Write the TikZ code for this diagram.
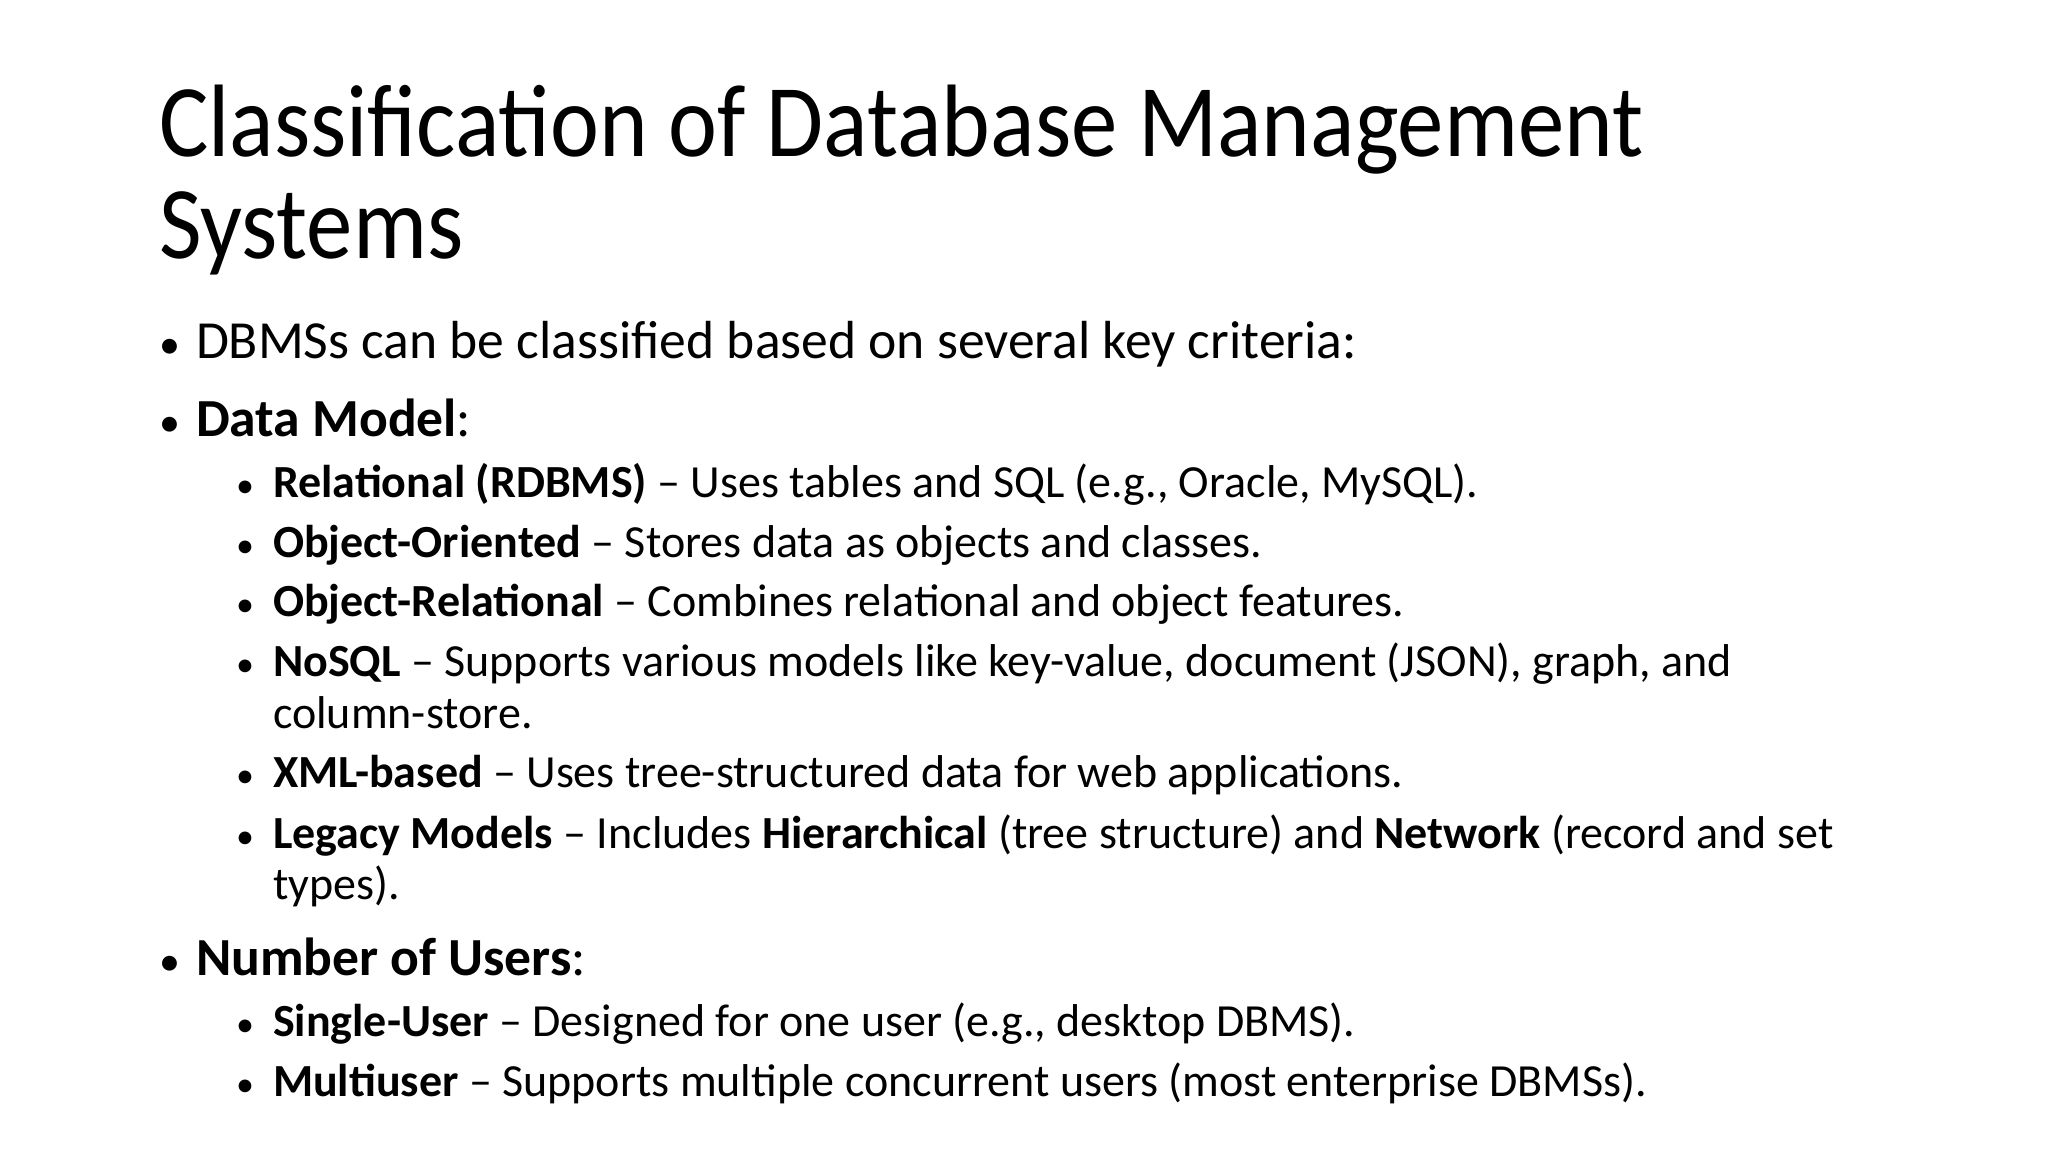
\documentclass[tikz,border=0pt]{standalone}
\usepackage{fontspec}
\setmainfont{Carlito}
\begin{document}
\begin{tikzpicture}[x=0.5pt,y=-0.5pt,
  t/.style={anchor=base west,inner sep=0pt,outer sep=0pt},
  ttl/.style={t,font=\fontsize{51.5}{60}\selectfont},
  l1/.style={t,font=\fontsize{26.8}{30}\selectfont},
  l2/.style={t,font=\fontsize{23}{26}\selectfont},
  b1/.style={t,font=\fontsize{21}{26}\selectfont},
  b2/.style={t,font=\fontsize{18}{22}\selectfont}]
\useasboundingbox (0,0) rectangle (2048,1152);
\node[ttl] (t1) at (159,156) {\scalebox{0.9}[1]{Classification of Database Management}};
\node[ttl] (t2) at (159,258) {\scalebox{0.9}[1]{Systems}};
\node[b1] (b1) at (159,358) {•};
\node[l1] (x1) at (196,358) {DBMSs can be classified based on several key criteria:};
\node[b1] (b2) at (159,436) {•};
\node[l1] (x2) at (196,436) {\textbf{Data Model}:};
\node[b2] (c1) at (236,497) {•};
\node[l2] (y1) at (273,497) {\textbf{Relational (RDBMS)} – Uses tables and SQL (e.g., Oracle, MySQL).};
\node[b2] (c2) at (236,557) {•};
\node[l2] (y2) at (273,557) {\textbf{Object-Oriented} – Stores data as objects and classes.};
\node[b2] (c3) at (236,616) {•};
\node[l2] (y3) at (273,616) {\textbf{Object-Relational} – Combines relational and object features.};
\node[b2] (c4) at (236,676) {•};
\node[l2] (y4) at (273,676) {\textbf{NoSQL} – Supports various models like key-value, document (JSON), graph, and};
\node[l2] (y4b) at (273,728) {column-store.};
\node[b2] (c5) at (236,787) {•};
\node[l2] (y5) at (273,787) {\textbf{XML-based} – Uses tree-structured data for web applications.};
\node[b2] (c6) at (236,848) {•};
\node[l2] (y6) at (273,848) {\textbf{Legacy Models} – Includes \textbf{Hierarchical} (tree structure) and \textbf{Network} (record and set};
\node[l2] (y6b) at (273,899) {types).};
\node[b1] (b3) at (159,975) {•};
\node[l1] (x3) at (196,975) {\textbf{Number of Users}:};
\node[b2] (c7) at (236,1036) {•};
\node[l2] (y7) at (273,1036) {\textbf{Single-User} – Designed for one user (e.g., desktop DBMS).};
\node[b2] (c8) at (236,1096) {•};
\node[l2] (y8) at (273,1096) {\textbf{Multiuser} – Supports multiple concurrent users (most enterprise DBMSs).};
\end{tikzpicture}
\end{document}
